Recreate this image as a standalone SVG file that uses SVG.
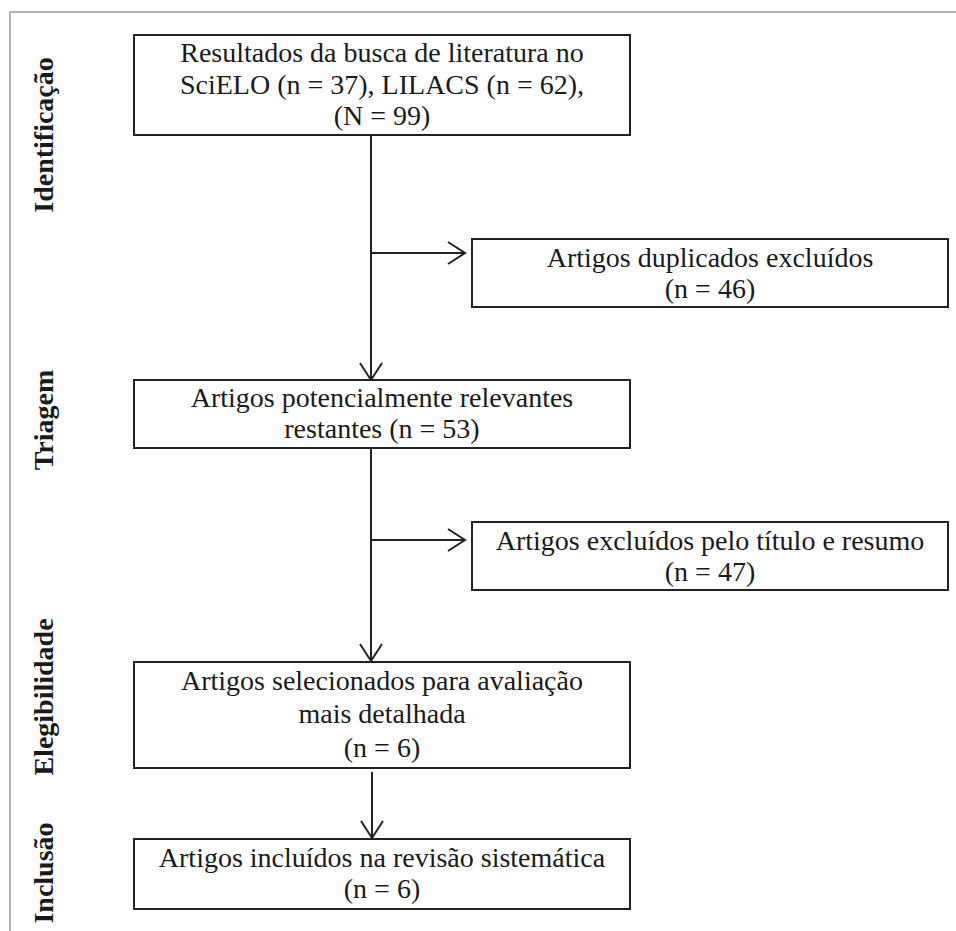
<svg xmlns="http://www.w3.org/2000/svg" width="956" height="931" viewBox="0 0 956 931">
  <style>
    .box { fill: #ffffff; stroke: #222222; stroke-width: 2; }
    .t { font-family: "Liberation Serif", "Times New Roman", serif; font-size: 28px; fill: #1a1a1a; text-anchor: middle; }
    .lab { font-family: "Liberation Serif", "Times New Roman", serif; font-size: 28px; font-weight: bold; fill: #1a1a1a; text-anchor: middle; }
    .ln { fill: none; stroke: #222222; stroke-width: 2; }
  </style>
  <defs>
    <marker id="arr" viewBox="0 0 20 24" refX="18" refY="12" markerWidth="20" markerHeight="24" markerUnits="userSpaceOnUse" orient="auto">
      <path d="M1,1 L18,12 L1,23" fill="none" stroke="#222222" stroke-width="2"/>
    </marker>
  </defs>
  <rect width="956" height="931" fill="#ffffff"/>
  <path d="M10,931 L10,12 L956,12" fill="none" stroke="#b4b4b4" stroke-width="2"/>

  <g id="labels">
    <text class="lab" transform="translate(53,135) rotate(-90)">Identificação</text>
    <text class="lab" transform="translate(53,420) rotate(-90)">Triagem</text>
    <text class="lab" transform="translate(53,697) rotate(-90)">Elegibilidade</text>
    <text class="lab" transform="translate(53,873) rotate(-90)">Inclusão</text>
  </g>

  <g id="connectors">
    <line class="ln" x1="371" y1="136" x2="371" y2="380" marker-end="url(#arr)"/>
    <line class="ln" x1="371" y1="253" x2="465" y2="253" marker-end="url(#arr)"/>
    <line class="ln" x1="371" y1="449" x2="371" y2="661" marker-end="url(#arr)"/>
    <line class="ln" x1="371" y1="540" x2="465" y2="540" marker-end="url(#arr)"/>
    <line class="ln" x1="372" y1="772" x2="372" y2="838" marker-end="url(#arr)"/>
  </g>

  <g id="node-busca">
    <rect class="box" x="134" y="35" width="496" height="100"/>
    <text class="t" x="382" y="62">Resultados da busca de literatura no</text>
    <text class="t" x="382" y="94">SciELO (n = 37), LILACS (n = 62),</text>
    <text class="t" x="382" y="125">(N = 99)</text>
  </g>

  <g id="node-duplicados">
    <rect class="box" x="472" y="239" width="476" height="68"/>
    <text class="t" x="710" y="267">Artigos duplicados excluídos</text>
    <text class="t" x="710" y="298">(n = 46)</text>
  </g>

  <g id="node-restantes">
    <rect class="box" x="134" y="380" width="496" height="68"/>
    <text class="t" x="382" y="407">Artigos potencialmente relevantes</text>
    <text class="t" x="382" y="438">restantes (n = 53)</text>
  </g>

  <g id="node-excluidos">
    <rect class="box" x="472" y="522" width="476" height="68"/>
    <text class="t" x="710" y="550">Artigos excluídos pelo título e resumo</text>
    <text class="t" x="710" y="581">(n = 47)</text>
  </g>

  <g id="node-selecionados">
    <rect class="box" x="134" y="662" width="496" height="106"/>
    <text class="t" x="382" y="690">Artigos selecionados para avaliação</text>
    <text class="t" x="382" y="723">mais detalhada</text>
    <text class="t" x="382" y="757">(n = 6)</text>
  </g>

  <g id="node-incluidos">
    <rect class="box" x="134" y="839" width="496" height="70"/>
    <text class="t" x="382" y="867">Artigos incluídos na revisão sistemática</text>
    <text class="t" x="382" y="898">(n = 6)</text>
  </g>
</svg>
